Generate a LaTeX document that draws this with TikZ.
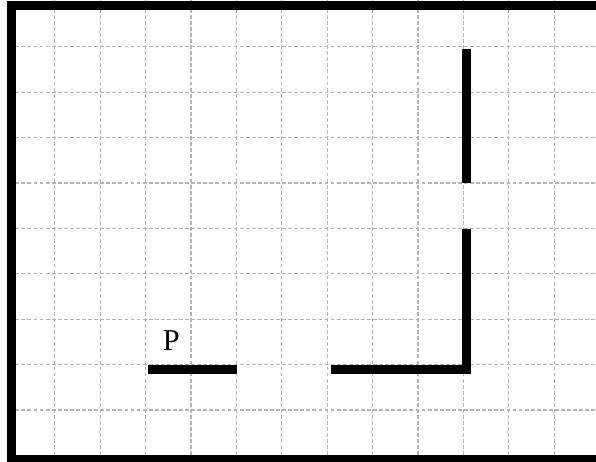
\documentclass[tikz,border=0pt]{standalone}
\usepackage{fontspec}
\setmainfont{Liberation Serif}
\usetikzlibrary{positioning}
\definecolor{gridgray}{HTML}{B4B4B4}

\begin{document}
\begin{tikzpicture}[
    gridline/.style={draw=gridgray, line width=0.75pt, dash pattern=on 2.4pt off 1.4pt},
    wall/.style={draw=black, line width=0.2cm, line join=miter},
    lbl/.style={font=\fontsize{19}{21}\selectfont, inner sep=0pt}]
    \clip (-0.205,-0.126) rectangle (12.923,10.029);
    % grid
    \foreach \i in {1,...,12} \draw[gridline] (\i,0) -- (\i,10.03);
    \foreach \j in {1,...,9} \draw[gridline] (0,\j) -- (12.93,\j);
    % outer border, open to the right
    \coordinate (bt) at (13.3,9.901);
    \coordinate (tl) at (0.044,9.901);
    \coordinate (bl) at (0.044,-0.099);
    \coordinate (bb) at (13.3,-0.099);
    \draw[wall] (bt) -- (tl) -- (bl) -- (bb);
    % walls
    \coordinate (w1a) at (10.07,8.96);
    \coordinate (w1b) at (10.07,5.99);
    \draw[wall] (w1a) -- (w1b);
    \coordinate (w2a) at (7.08,1.90);
    \coordinate (w2b) at (10.07,1.90);
    \coordinate (w2c) at (10.07,4.98);
    \draw[wall] (w2a) -- (w2b) -- (w2c);
    \coordinate (pa) at (3.05,1.90);
    \coordinate (pb) at (5.02,1.90);
    \draw[wall] (pa) -- (pb);
    \node[lbl, anchor=base] (p) at (3.57,2.31) {P};
\end{tikzpicture}
\end{document}
